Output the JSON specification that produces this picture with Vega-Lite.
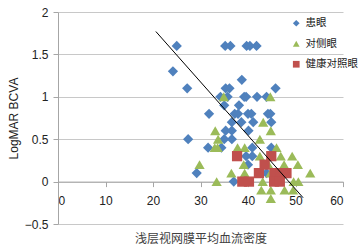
{
  "$schema": "https://vega.github.io/schema/vega-lite/v6.json",
  "width": 285,
  "height": 212,
  "autosize": {"type": "none"},
  "padding": {"left": 58, "top": 12, "right": 20, "bottom": 28},
  "background": "white",
  "config": {
    "view": {"stroke": null},
    "axis": {"labelFont": "Liberation Sans", "labelFontSize": 12, "labelColor": "#222", "titleFontWeight": "normal", "domainColor": "#A6A6A6", "tickColor": "#A6A6A6", "gridColor": "#C8C8C8"}
  },
  "datasets": {
    "pts": [
      {"x": 25, "y": 1.6, "g": "患眼"}, {"x": 24.2, "y": 1.3, "g": "患眼"}, {"x": 27.2, "y": 1.1, "g": "患眼"}, {"x": 27.4, "y": 0.5, "g": "患眼"},
      {"x": 31.8, "y": 0.8, "g": "患眼"}, {"x": 31.6, "y": 0.4, "g": "患眼"}, {"x": 29.2, "y": 0.1, "g": "患眼"}, {"x": 35.2, "y": 1.6, "g": "患眼"},
      {"x": 36.3, "y": 1.6, "g": "患眼"}, {"x": 39.7, "y": 1.6, "g": "患眼"}, {"x": 40.4, "y": 1.6, "g": "患眼"}, {"x": 41.8, "y": 1.6, "g": "患眼"},
      {"x": 38.7, "y": 1.2, "g": "患眼"}, {"x": 35.3, "y": 1.1, "g": "患眼"}, {"x": 36.1, "y": 1.1, "g": "患眼"}, {"x": 45.8, "y": 1.1, "g": "患眼"},
      {"x": 34.2, "y": 1.0, "g": "患眼"}, {"x": 35.7, "y": 1.0, "g": "患眼"}, {"x": 39.2, "y": 1.0, "g": "患眼"}, {"x": 39.6, "y": 1.0, "g": "患眼"},
      {"x": 41.9, "y": 1.0, "g": "患眼"}, {"x": 43.9, "y": 1.0, "g": "患眼"}, {"x": 35.0, "y": 0.9, "g": "患眼"}, {"x": 38.1, "y": 0.9, "g": "患眼"},
      {"x": 37.2, "y": 0.8, "g": "患眼"}, {"x": 37.9, "y": 0.8, "g": "患眼"}, {"x": 40.0, "y": 0.8, "g": "患眼"}, {"x": 40.7, "y": 0.8, "g": "患眼"},
      {"x": 44.2, "y": 0.8, "g": "患眼"}, {"x": 44.7, "y": 0.8, "g": "患眼"}, {"x": 36.6, "y": 0.7, "g": "患眼"}, {"x": 38.6, "y": 0.7, "g": "患眼"},
      {"x": 41.1, "y": 0.7, "g": "患眼"}, {"x": 44.9, "y": 0.7, "g": "患眼"}, {"x": 35.3, "y": 0.6, "g": "患眼"}, {"x": 36.6, "y": 0.6, "g": "患眼"},
      {"x": 40.1, "y": 0.6, "g": "患眼"}, {"x": 35.0, "y": 0.5, "g": "患眼"}, {"x": 36.6, "y": 0.5, "g": "患眼"}, {"x": 34.4, "y": 0.4, "g": "患眼"},
      {"x": 40.9, "y": 0.4, "g": "患眼"}, {"x": 44.9, "y": 0.4, "g": "患眼"}, {"x": 39.6, "y": 0.3, "g": "患眼"}, {"x": 40.9, "y": 0.3, "g": "患眼"},
      {"x": 40.0, "y": 0.2, "g": "患眼"}, {"x": 37.0, "y": 0.0, "g": "患眼"}, {"x": 43.9, "y": 0.1, "g": "患眼"},
      {"x": 34.9, "y": 1.0, "g": "对侧眼"}, {"x": 44.7, "y": 1.0, "g": "对侧眼"}, {"x": 33.1, "y": 0.6, "g": "对侧眼"}, {"x": 33.7, "y": 0.5, "g": "对侧眼"},
      {"x": 33.0, "y": 0.4, "g": "对侧眼"}, {"x": 33.6, "y": 0.4, "g": "对侧眼"}, {"x": 29.8, "y": 0.2, "g": "对侧眼"}, {"x": 33.4, "y": 0.0, "g": "对侧眼"},
      {"x": 36.5, "y": 0.1, "g": "对侧眼"}, {"x": 37.8, "y": 0.4, "g": "对侧眼"}, {"x": 39.3, "y": 0.4, "g": "对侧眼"}, {"x": 39.1, "y": 0.2, "g": "对侧眼"},
      {"x": 39.3, "y": 0.1, "g": "对侧眼"}, {"x": 43.2, "y": 0.7, "g": "对侧眼"}, {"x": 42.5, "y": 0.5, "g": "对侧眼"}, {"x": 44.8, "y": 0.6, "g": "对侧眼"},
      {"x": 42.5, "y": 0.3, "g": "对侧眼"}, {"x": 43.1, "y": 0.0, "g": "对侧眼"}, {"x": 42.8, "y": -0.1, "g": "对侧眼"}, {"x": 44.8, "y": -0.1, "g": "对侧眼"},
      {"x": 44.8, "y": -0.2, "g": "对侧眼"}, {"x": 46.0, "y": 0.4, "g": "对侧眼"}, {"x": 46.9, "y": 0.3, "g": "对侧眼"}, {"x": 47.6, "y": 0.2, "g": "对侧眼"},
      {"x": 49.3, "y": 0.3, "g": "对侧眼"}, {"x": 50.5, "y": 0.2, "g": "对侧眼"}, {"x": 50.6, "y": 0.0, "g": "对侧眼"}, {"x": 49.6, "y": 0.0, "g": "对侧眼"},
      {"x": 47.7, "y": -0.1, "g": "对侧眼"}, {"x": 49.5, "y": -0.1, "g": "对侧眼"}, {"x": 53.1, "y": 0.1, "g": "对侧眼"}, {"x": 44.7, "y": 0.1, "g": "对侧眼"},
      {"x": 44.3, "y": 0.2, "g": "对侧眼"},
      {"x": 37.7, "y": 0.3, "g": "健康对照眼"}, {"x": 38.8, "y": 0.0, "g": "健康对照眼"}, {"x": 40.2, "y": 0.0, "g": "健康对照眼"}, {"x": 42.3, "y": 0.1, "g": "健康对照眼"},
      {"x": 43.5, "y": 0.2, "g": "健康对照眼"}, {"x": 44.9, "y": 0.3, "g": "健康对照眼"}, {"x": 45.6, "y": 0.1, "g": "健康对照眼"}, {"x": 46.8, "y": 0.1, "g": "健康对照眼"},
      {"x": 48.1, "y": 0.1, "g": "健康对照眼"}, {"x": 45.5, "y": 0.0, "g": "健康对照眼"}, {"x": 46.7, "y": 0.0, "g": "健康对照眼"}
    ],
    "trend": [
      {"x": 20.6, "y": 1.77},
      {"x": 51.6, "y": -0.19}
    ]
  },
  "layer": [
    {
      "data": {"name": "pts"},
      "mark": {"type": "point", "filled": true, "opacity": 1, "size": 105},
      "encoding": {
        "x": {"field": "x", "type": "quantitative", "scale": {"domain": [0, 60], "nice": false},
          "axis": {"values": [0, 10, 20, 30, 40, 50, 60], "offset": -42.4, "grid": false, "tickSize": 5, "labelPadding": 9,
            "title": "浅层视网膜平均血流密度", "titleFont": "Noto Sans CJK SC", "titleFontSize": 12, "titleColor": "#404040",
            "titleY": 56.6, "titleBaseline": "middle"}},
        "y": {"field": "y", "type": "quantitative", "scale": {"domain": [-0.5, 2], "nice": false},
          "axis": {"values": [-0.5, 0, 0.5, 1, 1.5, 2], "format": ".1~f", "tickSize": 5, "labelPadding": 5, "grid": true,
            "title": "LogMAR BCVA", "titleFont": "Liberation Sans", "titleFontSize": 12, "titleColor": "#222",
            "titleX": -45, "titleBaseline": "middle"}},
        "color": {"field": "g", "type": "nominal",
          "scale": {"domain": ["患眼", "对侧眼", "健康对照眼"], "range": ["#4F81BD", "#9BBB59", "#C0504D"]},
          "legend": {"title": null, "orient": "none", "legendX": 233, "legendY": 6, "labelFont": "Noto Sans CJK SC", "labelFontSize": 10.5, "labelColor": "#222", "symbolSize": 45, "rowPadding": 9.5, "padding": 0, "labelOffset": 4}},
        "shape": {"field": "g", "type": "nominal",
          "scale": {"domain": ["患眼", "对侧眼", "健康对照眼"], "range": ["diamond", "triangle-up", "square"]}}
      }
    },
    {
      "data": {"name": "trend"},
      "mark": {"type": "line", "color": "black", "strokeWidth": 1},
      "encoding": {
        "x": {"field": "x", "type": "quantitative"},
        "y": {"field": "y", "type": "quantitative"}
      }
    }
  ]
}
